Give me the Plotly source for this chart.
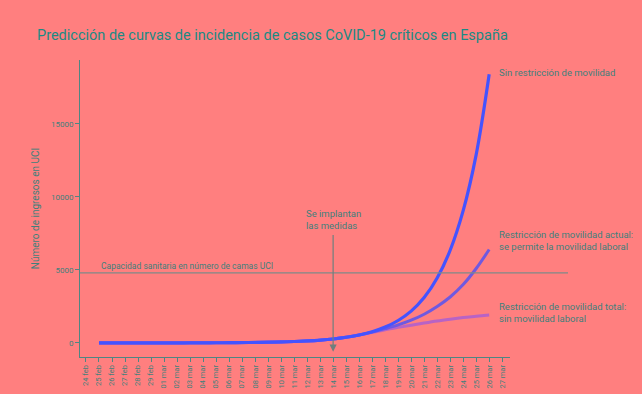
import plotly.graph_objects as go

dates = ["24 feb", "25 feb", "26 feb", "27 feb", "28 feb", "29 feb",
         "01 mar", "02 mar", "03 mar", "04 mar", "05 mar", "06 mar", "07 mar",
         "08 mar", "09 mar", "10 mar", "11 mar", "12 mar", "13 mar", "14 mar",
         "15 mar", "16 mar", "17 mar", "18 mar", "19 mar", "20 mar", "21 mar",
         "22 mar", "23 mar", "24 mar", "25 mar", "26 mar", "27 mar"]

x_series = dates[1:32]

shared = [1, 2, 2, 3, 4, 5, 6, 8, 11, 15, 20, 28, 38, 52, 72, 100, 140, 195,
          275, 390, 550]
sin_restriccion = shared + [770, 1090, 1540, 2180, 3110, 4450, 6350, 9060, 12900, 18400]
mov_actual = shared + [745, 980, 1240, 1560, 1970, 2500, 3150, 4000, 5100, 6400]
mov_total = shared + [725, 910, 1070, 1220, 1370, 1510, 1630, 1740, 1830, 1920]

capacidad = 4800

BG = "#FF7F7F"
TXT = "#3f7f7c"
AX = "#4f8583"

fig = go.Figure()
fig.add_trace(go.Scatter(x=x_series, y=mov_total, mode="lines",
                         line=dict(color="rgba(160,90,220,0.75)", width=3, shape="spline", smoothing=1),
                         showlegend=False))
fig.add_trace(go.Scatter(x=x_series, y=mov_actual, mode="lines",
                         line=dict(color="rgba(95,85,235,0.9)", width=3, shape="spline", smoothing=1),
                         showlegend=False))
fig.add_trace(go.Scatter(x=x_series, y=sin_restriccion, mode="lines",
                         line=dict(color="#4453ff", width=3.2, shape="spline", smoothing=1),
                         showlegend=False))

fig.update_layout(
    width=642, height=394,
    paper_bgcolor=BG, plot_bgcolor=BG,
    margin=dict(l=80, r=132, t=60, b=37),
    font=dict(family="Roboto, Inter, sans-serif", color=TXT),
    title=dict(text="Predicción de curvas de incidencia de casos CoVID-19 críticos en España",
               x=37 / 642, xanchor="left", y=1 - 35 / 394, yanchor="middle",
               font=dict(size=14.5, color="#1b8a84")),
    xaxis=dict(type="category", categoryorder="array", categoryarray=dates,
               range=[-0.46, 32.6], showgrid=False, zeroline=False,
               showline=True, linecolor=AX, linewidth=1,
               ticks="outside", ticklen=4, tickcolor=AX,
               tickangle=-90, tickfont=dict(size=7.5, color=TXT),
               tickmode="array", tickvals=dates, ticktext=dates, automargin=False),
    yaxis=dict(range=[-960, 19380], showgrid=False, zeroline=False,
               showline=True, linecolor=AX, linewidth=1,
               ticks="outside", ticklen=4, tickcolor=AX,
               tickvals=[0, 5000, 10000, 15000], ticktext=["0", "5000", "10000", "15000"],
               tickfont=dict(size=8, color=TXT), automargin=False,
               title=dict(text="Número de ingresos en UCI", font=dict(size=10, color=TXT),
                          standoff=9)),
)

fig.add_shape(type="line", xref="paper", yref="y", x0=0, x1=(568 - 80) / 430,
              y0=capacidad, y1=capacidad, line=dict(color="#7f8a88", width=1.2))

def ann(text, px, py, size=9.5):
    fig.add_annotation(text=text, xref="paper", yref="paper",
                       x=(px - 80) / 430, y=(357 - py) / 297,
                       xanchor="left", yanchor="middle", showarrow=False,
                       align="left", font=dict(size=size, color=TXT))

ann("Sin restricción de movilidad", 497, 72)
ann("Restricción de movilidad actual:<br>se permite la movilidad laboral", 497, 240)
ann("Restricción de movilidad total:<br>sin movilidad laboral", 497, 312)
ann("Capacidad sanitaria en número de camas UCI", 99, 266, size=8.5)
ann("Se implantan<br>las medidas", 304, 219)

fig.add_annotation(x="14 mar", y=-600, xref="x", yref="y",
                   ax="14 mar", ay=7500, axref="x", ayref="y",
                   text="", showarrow=True, arrowhead=2, arrowsize=1.2,
                   arrowwidth=1.2, arrowcolor="#6f7f7e")

fig.write_html("out.html", config={"displayModeBar": False},
               post_script="document.body.style.margin='0';document.body.style.background='#FF7F7F';")
